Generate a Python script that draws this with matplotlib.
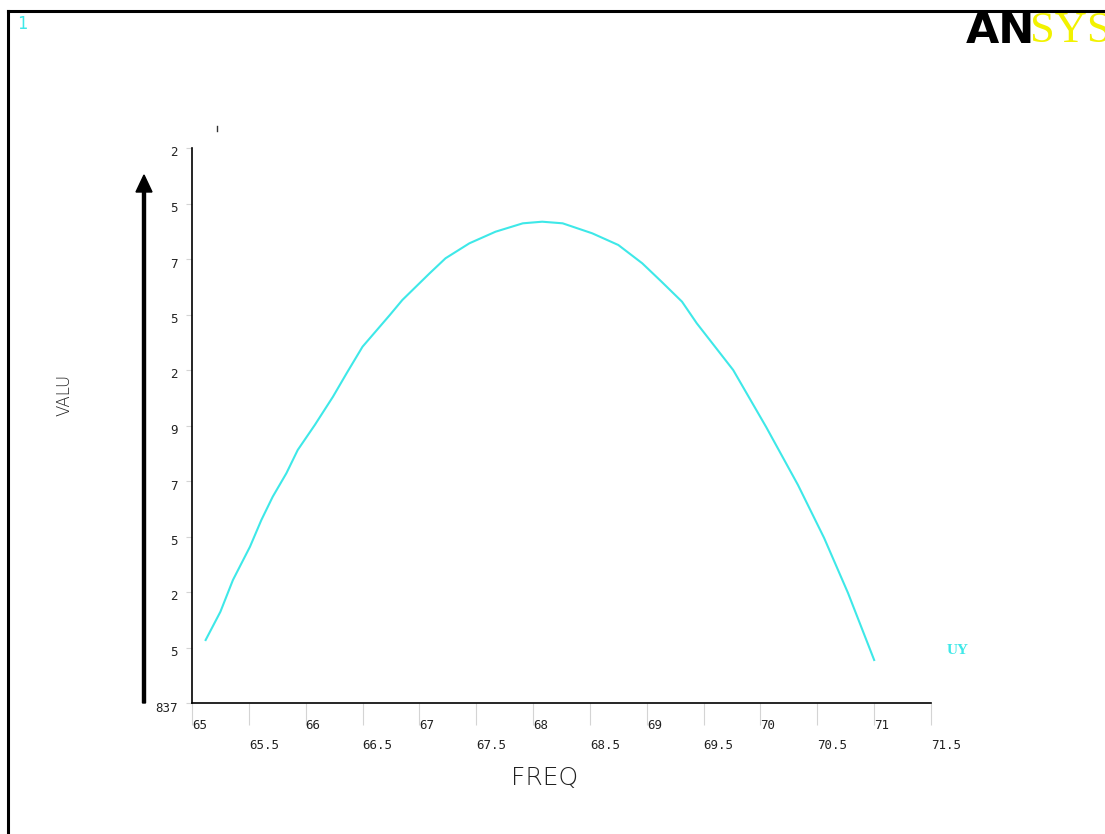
import matplotlib
matplotlib.use("Agg")
import matplotlib.pyplot as plt
from matplotlib.lines import Line2D
from matplotlib.patches import FancyArrow
from matplotlib.transforms import IdentityTransform, offset_copy

# frequency sweep (Hz) and response, y in tick-step units
freq = [65.12, 65.25, 65.36, 65.51, 65.61, 65.71, 65.83, 65.93, 66.08, 66.24,
        66.36, 66.50, 66.74, 66.85, 67.09, 67.23, 67.44, 67.67, 67.91, 68.08,
        68.26, 68.52, 68.75, 68.96, 69.13, 69.31, 69.44, 69.76, 70.05, 70.33,
        70.56, 70.77, 71.00]
uy = [1.135, 1.645, 2.216, 2.816, 3.297, 3.717, 4.139, 4.559, 5.009, 5.519,
      5.941, 6.420, 6.991, 7.261, 7.742, 8.013, 8.283, 8.492, 8.643, 8.672,
      8.643, 8.463, 8.252, 7.923, 7.591, 7.231, 6.841, 6.000, 4.973, 3.928,
      2.973, 1.982, 0.775]

x_major = [65, 66, 67, 68, 69, 70, 71]
x_major_labels = ["65", "66", "67", "68", "69", "70", "71"]
x_minor = [65.5, 66.5, 67.5, 68.5, 69.5, 70.5, 71.5]
x_minor_labels = ["65.5", "66.5", "67.5", "68.5", "69.5", "70.5", "71.5"]
y_ticks = [0, 1, 2, 3, 4, 5, 6, 7, 8, 9, 10]
y_labels = ["837", "5", "2", "5", "7", "9", "2", "5", "7", "5", "2"]

W, H = 1105, 834
fig = plt.figure(figsize=(W / 100, H / 100), dpi=100)
fig.patch.set_facecolor("white")

ax = fig.add_axes([192 / W, (H - 703) / H, 739 / W, 555 / H])
ax.plot(freq, uy, color="#3ee8e8", lw=1.5)
ax.set_xlim(65, 71.5)
ax.set_ylim(0, 10)

for s in ["top", "right"]:
    ax.spines[s].set_visible(False)
for s in ["left", "bottom"]:
    ax.spines[s].set_color("black")
    ax.spines[s].set_linewidth(1.2)

ax.set_xticks(x_major + x_minor)
ax.set_xticklabels([])
ax.set_yticks(y_ticks)
ax.set_yticklabels([])
ax.tick_params(axis="x", direction="out", length=16, width=0.8, color="#d4d4d4")
ax.tick_params(axis="y", direction="out", length=4.5, width=0.8, color="#d4d4d4")

tick_font = dict(family="DejaVu Sans Mono", fontsize=9, color="#222222")
xt = ax.get_xaxis_transform()
for v, lab in zip(x_major, x_major_labels):
    ax.text(v, -0.0405, lab, transform=xt, ha="left", va="center", **tick_font)
for v, lab in zip(x_minor, x_minor_labels):
    ax.text(v, -0.0757, lab, transform=xt, ha="left", va="center", **tick_font)

yt = offset_copy(ax.get_yaxis_transform(), fig=fig, y=-3.6, units="points")
for v, lab in zip(y_ticks, y_labels):
    ax.text(-0.019, v, lab, transform=yt, ha="right", va="center",
            clip_on=False, **tick_font)

px = IdentityTransform()

# window frame
fig.add_artist(Line2D([8, W], [H - 11, H - 11], color="black", lw=2.2, transform=px))
fig.add_artist(Line2D([8, 8], [0, H - 11], color="black", lw=2.2, transform=px))

# value arrow beside the y axis
fig.add_artist(FancyArrow(144, H - 703, 0, 528, width=3, head_width=16,
                          head_length=17, length_includes_head=True,
                          color="black", transform=px))

# small mark above the plot
fig.add_artist(Line2D([217, 217], [H - 126, H - 131], color="#333333", lw=1, transform=px))

fig.text(17, H - 24, "1", transform=px, ha="left", va="center",
         family="DejaVu Sans Mono", fontsize=12, color="#3ee8e8")
fig.text(966, H - 31, "AN", transform=px, ha="left", va="center",
         family="DejaVu Sans", fontweight="heavy", fontsize=31, color="black")
fig.text(1030, H - 31, "SYS", transform=px, ha="left", va="center",
         family="Liberation Serif", fontsize=32, color="#f2f200")

fig.text(947, H - 650, "UY", transform=px, ha="left", va="center",
         family="Liberation Serif", fontweight="bold", fontsize=11, color="#3ee8e8")

fig.text(545, H - 778, "FREQ", transform=px, ha="center", va="center",
         family="DejaVu Sans", fontweight="light", fontsize=18, color="#222222")
fig.text(65, H - 395, "VALU", transform=px, ha="center", va="center", rotation=90,
         family="DejaVu Sans", fontweight="light", fontsize=12, color="#222222")

fig.savefig("out.png", dpi=100, facecolor="white")
